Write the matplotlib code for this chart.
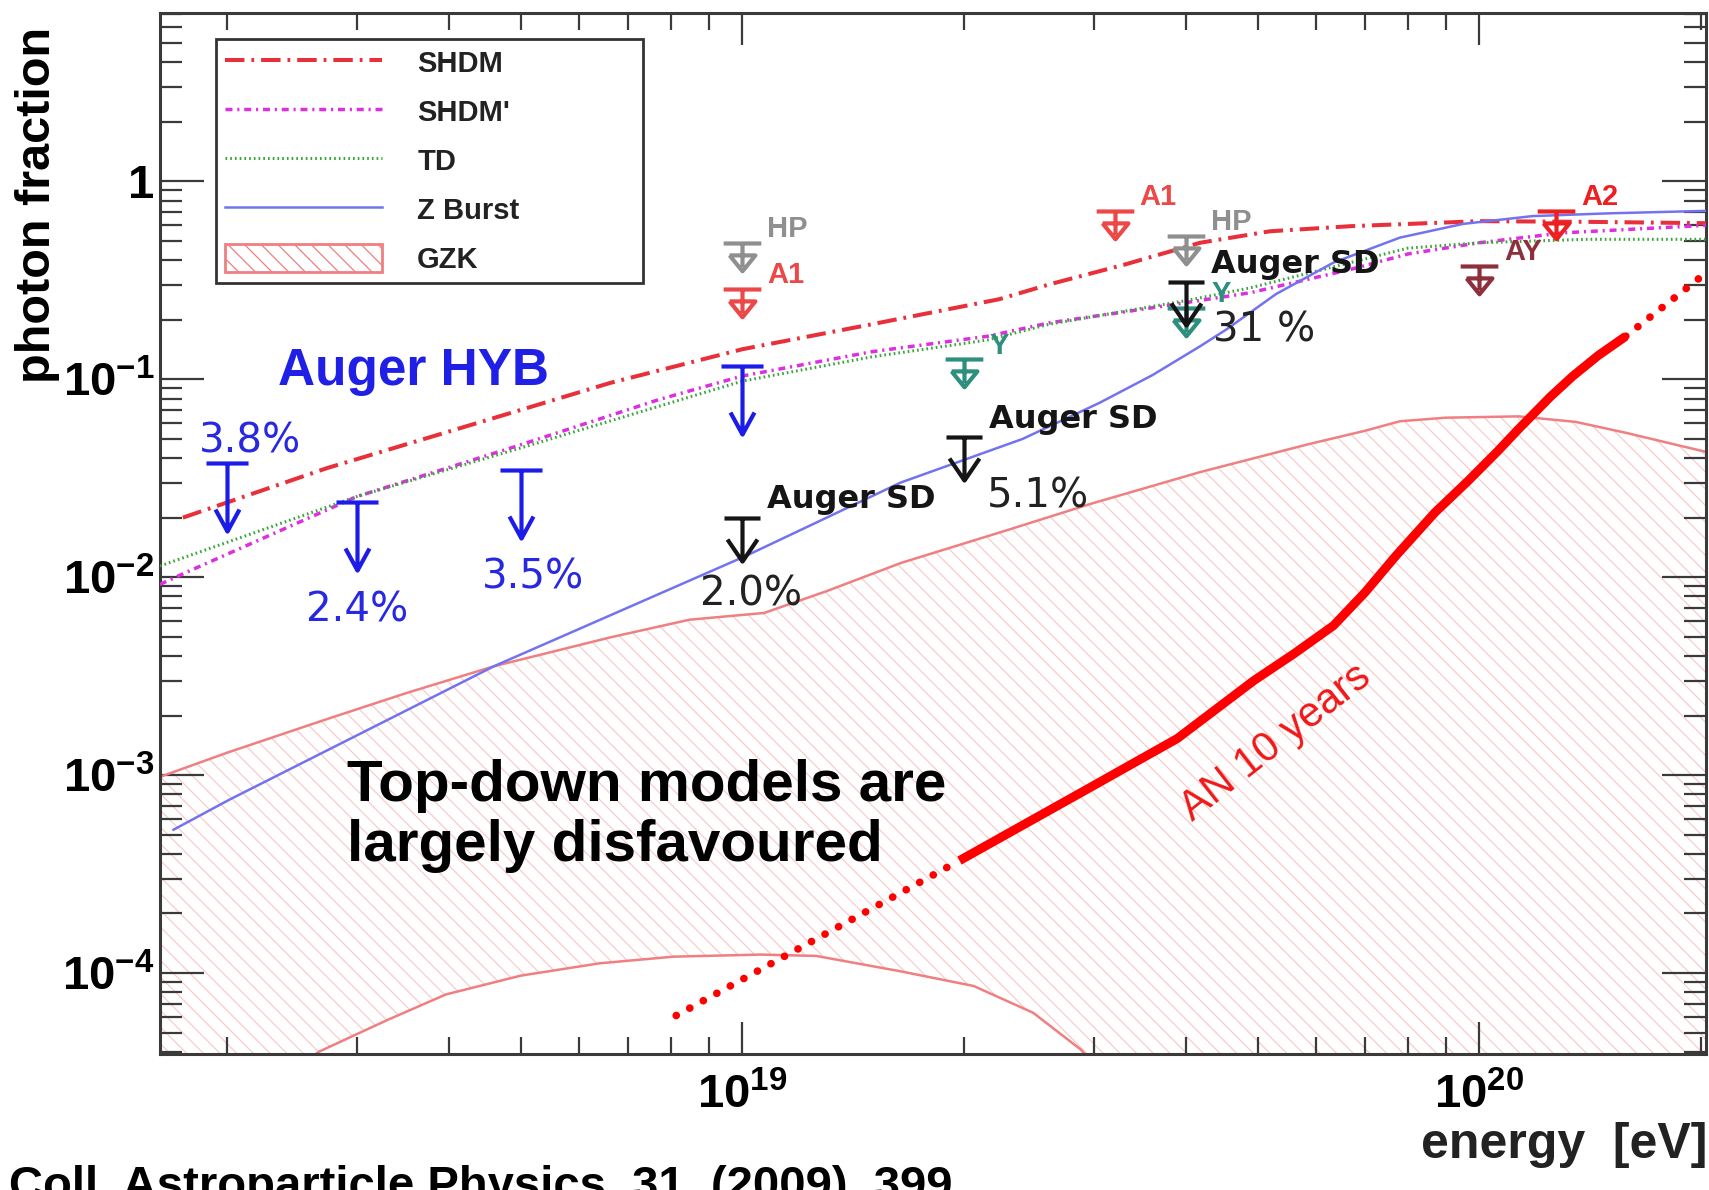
import matplotlib
matplotlib.use('Agg')
import matplotlib.pyplot as plt
from matplotlib.path import Path
from matplotlib.patches import Patch
from matplotlib.lines import Line2D
from matplotlib.ticker import FixedLocator, FixedFormatter, NullFormatter

plt.rcParams['font.family'] = ['Liberation Sans', 'DejaVu Sans']
plt.rcParams['mathtext.fontset'] = 'custom'
plt.rcParams['mathtext.rm'] = 'Liberation Sans:bold'
plt.rcParams['mathtext.bf'] = 'Liberation Sans:bold'
plt.rcParams['mathtext.it'] = 'Liberation Sans:bold'
plt.rcParams['lines.scale_dashes'] = False
plt.rcParams['hatch.linewidth'] = 0.9

# model curves (energy in eV, photon fraction)
shdm_E = [1.74e18, 2.73e18, 4.55e18, 6.62e18, 1.0e19, 1.5e19, 2.23e19, 2.61e19, 3.3e19, 4.18e19, 5.2e19, 6.68e19, 1.0e20, 1.4e20, 2.05e20]
shdm_f = [0.020, 0.0356, 0.063, 0.096, 0.142, 0.190, 0.254, 0.302, 0.38, 0.49, 0.56, 0.594, 0.63, 0.625, 0.615]

shdmp_E = [1.62e18, 1.75e18, 3.0e18, 4.94e18, 7.7e18, 1.0e19, 1.5e19, 2.15e19, 2.61e19, 3.6e19, 4.89e19, 6.7e19, 8.0e19, 1.0e20, 1.3e20, 2.03e20]
shdmp_f = [0.0092, 0.0105, 0.0256, 0.046, 0.079, 0.104, 0.138, 0.165, 0.193, 0.23, 0.274, 0.36, 0.43, 0.49, 0.55, 0.60]

td_E = [1.62e18, 3.0e18, 5.0e18, 1.0e19, 1.5e19, 2.15e19, 2.61e19, 4.0e19, 4.89e19, 6.7e19, 8.0e19, 1.0e20, 1.4e20, 2.03e20]
td_f = [0.0114, 0.0256, 0.045, 0.098, 0.130, 0.158, 0.19, 0.25, 0.29, 0.39, 0.46, 0.49, 0.51, 0.51]

zb_E = [1.69e18, 2.01e18, 4.6e18, 1.01e19, 1.64e19, 2.4e19, 3.05e19, 3.6e19, 4.18e19, 4.54e19, 5.3e19, 6.34e19, 7.8e19, 9.5e19, 1.18e20, 1.5e20, 2.03e20]
zb_f = [5.3e-4, 7.5e-4, 3.55e-3, 0.0128, 0.0301, 0.050, 0.076, 0.105, 0.147, 0.179, 0.27, 0.389, 0.52, 0.61, 0.668, 0.69, 0.71]

gzk_hi_E = [1.62e18, 2.0e18, 2.73e18, 3.5e18, 4.6e18, 6.62e18, 8.47e18, 1.07e19, 1.3e19, 1.64e19, 2.31e19, 2.97e19, 4.18e19, 5.86e19, 7.0e19, 7.8e19, 9.0e19, 1.13e20, 1.35e20, 1.58e20, 2.03e20]
gzk_hi_f = [9.8e-4, 1.3e-3, 1.92e-3, 2.6e-3, 3.55e-3, 4.97e-3, 6.1e-3, 6.6e-3, 8.5e-3, 0.0118, 0.0175, 0.0235, 0.034, 0.047, 0.055, 0.0614, 0.064, 0.065, 0.061, 0.0537, 0.043]

gzk_lo_E = [2.4e18, 2.66e18, 3.3e18, 3.96e18, 5.0e18, 6.4e18, 8.06e18, 1.06e19, 1.26e19, 1.64e19, 2.06e19, 2.48e19, 2.88e19, 3.1e19]
gzk_lo_f = [3.0e-5, 4.0e-5, 5.8e-5, 7.8e-5, 9.7e-5, 1.12e-4, 1.21e-4, 1.24e-4, 1.22e-4, 1.02e-4, 8.6e-5, 6.3e-5, 4.1e-5, 3.0e-5]

# Auger North 10 years sensitivity (dotted - solid - dotted)
an_lo_E = [8.13e18, 1.97e19]
an_lo_f = [6.1e-5, 3.7e-4]
an_E = [1.97e19, 2.97e19, 3.89e19, 4.94e19, 5.6e19, 6.34e19, 7.0e19, 7.7e19, 8.7e19, 9.64e19, 1.06e20, 1.13e20, 1.25e20, 1.34e20, 1.45e20, 1.58e20]
an_f = [3.7e-4, 8.7e-4, 1.53e-3, 3.0e-3, 4.1e-3, 5.7e-3, 8.4e-3, 0.0128, 0.0212, 0.0305, 0.0435, 0.056, 0.082, 0.104, 0.132, 0.165]
an_hi_E = [1.58e20, 2.03e20]
an_hi_f = [0.165, 0.345]

# upper limits
hyb_E = [2e18, 3e18, 5e18, 1e19]
hyb_lim = [0.038, 0.024, 0.035, 0.117]
hyb_txt = ['3.8%', '2.4%', '3.5%', '']
sd_E = [1e19, 2e19, 4e19]
sd_lim = [0.020, 0.051, 0.31]
sd_txt = ['2.0%', '5.1%', '31 %']
other_E = [1e19, 4e19, 1e19, 3.2e19, 2e19, 4e19, 1e20, 1.27e20]
other_lim = [0.49, 0.53, 0.287, 0.71, 0.126, 0.23, 0.373, 0.71]
other_name = ['HP', 'HP', 'A1', 'A1', 'Y', 'Y', 'AY', 'A2']
other_col = ['#8f8f8f', '#8f8f8f', '#ec4848', '#ec4848', '#2e8f7f', '#2e8f7f', '#8e2f3c', '#ec2020']

xticks = [1e19, 1e20]
xlabels = [r'$\mathbf{10^{19}}$', r'$\mathbf{10^{20}}$']
yticks = [1e-4, 1e-3, 1e-2, 1e-1, 1]
ylabels = [r'$\mathbf{10^{-4}}$', r'$\mathbf{10^{-3}}$', r'$\mathbf{10^{-2}}$', r'$\mathbf{10^{-1}}$', r'$\mathbf{1}$']

c_shdm = '#e8303a'
c_shdmp = '#dd2ee0'
c_td = '#3aa63a'
c_zb = '#7373f0'
c_gzk = '#ef7f80'
c_hatch = '#f8cccc'

fig = plt.figure(figsize=(17.09, 11.90), dpi=100)
ax = fig.add_axes([0.0936, 0.1143, 0.9046, 0.8748])
ax.set_xscale('log')
ax.set_yscale('log')
ax.set_xlim(1.62e18, 2.03e20)
ax.set_ylim(3.9e-5, 7.1)

# GZK band (hatched between the two GZK curves)
band_E = gzk_hi_E + [gzk_hi_E[-1]] + gzk_lo_E[::-1] + [gzk_hi_E[0]]
band_f = gzk_hi_f + [1e-7] + gzk_lo_f[::-1] + [1e-7]
ax.fill(band_E, band_f, facecolor='none', edgecolor=c_hatch, hatch='\\\\', linewidth=0, zorder=1)
ax.plot(gzk_hi_E, gzk_hi_f, color=c_gzk, lw=1.8, zorder=2)
ax.plot(gzk_lo_E, gzk_lo_f, color=c_gzk, lw=1.8, zorder=2)

ax.plot(shdm_E, shdm_f, color=c_shdm, lw=2.9, ls=(0, (14, 5, 2, 5)), zorder=3)
ax.plot(shdmp_E, shdmp_f, color=c_shdmp, lw=2.5, ls=(0, (5, 3.5, 1.5, 3.5)), zorder=3)
ax.plot(td_E, td_f, color=c_td, lw=2.2, ls=(0, (1.2, 2.2)), zorder=3)
ax.plot(zb_E, zb_f, color=c_zb, lw=1.8, zorder=3)

ax.plot(an_E, an_f, color='#ff0000', lw=6.5, solid_capstyle='butt', solid_joinstyle='round', zorder=4)
ax.plot(an_lo_E, an_lo_f, color='#ff0000', lw=5.5, ls=(0, (0.1, 11)), dash_capstyle='round', zorder=4)
ax.plot(an_hi_E, an_hi_f, color='#ff0000', lw=5.5, ls=(0, (0.1, 11)), dash_capstyle='round', zorder=4)

# upper limit symbols
M, L = Path.MOVETO, Path.LINETO
arrow_long = Path([(-21, 0), (21, 0), (0, 0), (0, -68), (-12, -46), (0, -68), (12, -46)], [M, L, M, L, M, L, L])
arrow_short = Path([(-18, 0), (18, 0), (0, 0), (0, -43), (-15, -21), (0, -43), (15, -21)], [M, L, M, L, M, L, L])
tri_lim = Path([(-19, 0), (19, 0), (0, 0), (0, -24), (-13, -12), (13, -12), (0, -28), (-13, -12)], [M, L, M, L, M, L, L, L])

ax.plot(hyb_E, hyb_lim, ls='none', marker=arrow_long, ms=98, mec='#1c1ce8', mfc='none', mew=3.0, zorder=6)
ax.plot(sd_E, sd_lim, ls='none', marker=arrow_short, ms=62, mec='#151515', mfc='none', mew=3.0, zorder=6)
for e, v, c in zip(other_E, other_lim, other_col):
    ax.plot([e], [v], ls='none', marker=tri_lim, ms=40, mec=c, mfc='none', mew=3.0, zorder=5)

for e, v, name, c in zip(other_E, other_lim, other_name, other_col):
    ax.annotate(name, (e, v), xytext=(18, 10), textcoords='offset points', ha='left', va='center',
                fontsize=21, fontweight='bold', color=c, zorder=7)

hyb_off = [(16, 15), (0, -78), (9, -78), (0, 0)]
for e, v, t, off in zip(hyb_E, hyb_lim, hyb_txt, hyb_off):
    if t:
        ax.annotate(t, (e, v), xytext=off, textcoords='offset points', ha='center', va='center',
                    fontsize=29, family='DejaVu Sans', color='#2828e0', zorder=7)

sd_off = [(6, -55), (53, -43), (56, -35)]
for e, v, t, off in zip(sd_E, sd_lim, sd_txt, sd_off):
    ax.annotate('Auger SD', (e, v), xytext=(18, 13), textcoords='offset points', ha='left', va='center',
                fontsize=23, family='DejaVu Sans', fontweight='bold', color='#151515', zorder=7)
    ax.annotate(t, (e, v), xytext=off, textcoords='offset points', ha='center', va='center',
                fontsize=29, family='DejaVu Sans', color='#222222', zorder=7)

ax.text(0.164, 0.656, 'Auger HYB', transform=ax.transAxes, ha='center', va='center',
        fontsize=37, fontweight='bold', color='#1f1fe6', zorder=7)
ax.text(0.121, 0.185, 'Top-down models are\nlargely disfavoured', transform=ax.transAxes,
        ha='left', va='baseline', fontsize=42, fontweight='bold', color='black', linespacing=1.15, zorder=7)
ax.text(0.722, 0.299, 'AN 10 years', transform=ax.transAxes, ha='center', va='center',
        rotation=38, rotation_mode='anchor', fontsize=30, color='#f01818', zorder=7)

# axes styling (ticks inside on all sides)
for s in ax.spines.values():
    s.set_color('#3a3a3a')
    s.set_linewidth(2.2)
ax.xaxis.set_major_locator(FixedLocator(xticks))
ax.xaxis.set_major_formatter(FixedFormatter(xlabels))
ax.yaxis.set_major_locator(FixedLocator(yticks))
ax.yaxis.set_major_formatter(FixedFormatter(ylabels))
ax.xaxis.set_minor_formatter(NullFormatter())
ax.yaxis.set_minor_formatter(NullFormatter())
ax.tick_params(axis='both', which='both', direction='in', top=True, right=True, colors='#3a3a3a',
               labelcolor='black')
ax.tick_params(axis='x', which='major', length=23, width=1.6, pad=14, labelsize=34)
ax.tick_params(axis='x', which='minor', length=12, width=1.6)
ax.tick_params(axis='y', which='major', length=32, width=1.6, pad=4, labelsize=34)
ax.tick_params(axis='y', which='minor', length=16, width=1.6)

# legend
handles = [
    Line2D([], [], color=c_shdm, lw=2.9, ls=(0, (14, 5, 2, 5))),
    Line2D([], [], color=c_shdmp, lw=2.5, ls=(0, (5, 3.5, 1.5, 3.5))),
    Line2D([], [], color=c_td, lw=2.2, ls=(0, (1.2, 2.2))),
    Line2D([], [], color=c_zb, lw=1.8),
    Patch(facecolor='white', edgecolor=c_gzk, hatch='\\\\', lw=2),
]
labels = ['SHDM', "SHDM'", 'TD', 'Z Burst', 'GZK']
leg = ax.legend(handles, labels, loc='upper left', bbox_to_anchor=(0.0362, 0.5, 0.2762, 0.475),
                mode='expand', borderaxespad=0, borderpad=0.3, labelspacing=0.66, handlelength=5.4,
                handleheight=1.1, handletextpad=1.2, fancybox=False, framealpha=1,
                prop={'family': 'Liberation Sans', 'weight': 'bold', 'size': 21})
leg.get_frame().set_edgecolor('#333333')
leg.get_frame().set_linewidth(2)
for t in leg.get_texts():
    t.set_color('#222222')
leg.set_zorder(8)

fig.text(38 / 1709, 1 - 205 / 1190, 'photon fraction', rotation=90, ha='center', va='center',
         fontsize=35, fontweight='bold')
fig.text(1707 / 1709, 1 - 1145 / 1190, 'energy  [eV]', ha='right', va='center',
         fontsize=36, fontweight='bold', color='#222222')
fig.text(9 / 1709, -0.0076, 'Coll. Astroparticle Physics, 31, (2009), 399', ha='left', va='baseline',
         fontsize=34, fontweight='bold')

fig.savefig('out.png', dpi=100, facecolor='white')
